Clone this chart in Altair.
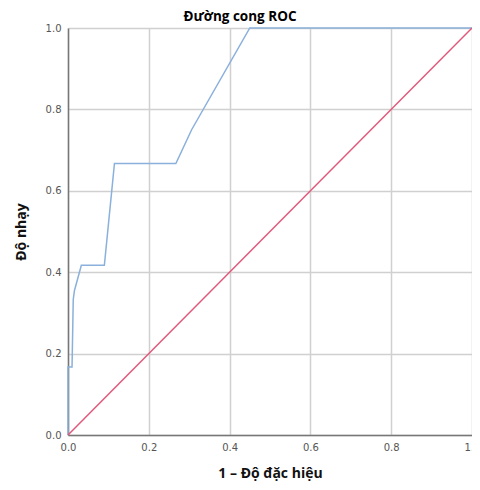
import altair as alt
import pandas as pd

fpr = [0.0, 0.0, 0.010, 0.013, 0.016, 0.033, 0.090, 0.115, 0.267, 0.306, 0.450, 1.0]
tpr = [0.0, 0.167, 0.167, 0.333, 0.355, 0.417, 0.417, 0.667, 0.667, 0.750, 1.0, 1.0]
ref_x = [0.0, 1.0]
ref_y = [0.0, 1.0]
ticks = [0.0, 0.2, 0.4, 0.6, 0.8, 1.0]

roc = pd.DataFrame({"x": fpr, "y": tpr, "order": list(range(len(fpr)))})
diag = pd.DataFrame({"x": ref_x, "y": ref_y})

xs = alt.Scale(domain=[0, 1], nice=False, zero=False)
ys = alt.Scale(domain=[0, 1], nice=False, zero=False)

xaxis = alt.Axis(title="1 – Độ đặc hiệu", values=ticks, format=".1f", ticks=False,
                 labelPadding=7, titlePadding=14)
yaxis = alt.Axis(title="Độ nhạy", values=ticks, format=".1f", ticks=False,
                 labelPadding=7, titlePadding=17)

line_roc = alt.Chart(roc).mark_line(color="#8ab0dc", strokeWidth=1.5).encode(
    x=alt.X("x:Q", scale=xs, axis=xaxis),
    y=alt.Y("y:Q", scale=ys, axis=yaxis),
    order="order:Q",
)
line_diag = alt.Chart(diag).mark_line(color="#e0587a", strokeWidth=1.5).encode(
    x=alt.X("x:Q", scale=xs),
    y=alt.Y("y:Q", scale=ys),
)

chart = (
    alt.layer(line_roc, line_diag)
    .properties(
        width=404,
        height=407,
        title=alt.TitleParams("Đường cong ROC", fontSize=13.5, font="Open Sans",
                              fontWeight="bold", anchor="middle", dx=-30, offset=0),
        autosize=alt.AutoSizeParams(type="none"),
        padding={"left": 60, "top": 20, "right": 0, "bottom": 46},
    )
    .configure_view(stroke=None)
    .configure_axis(
        labelFont="DejaVu Sans",
        labelFontSize=10,
        labelColor="#555555",
        titleFont="Open Sans",
        titleFontSize=14,
        titleFontWeight="bold",
        titleColor="#111111",
        gridColor="#d0d0d0",
        gridWidth=1.5,
        domainColor="#777777",
        domainWidth=1.5,
    )
    .configure_axisX(labelFlush=False)
)

chart.save("out.html", embed_options={"renderer": "svg", "actions": False})
